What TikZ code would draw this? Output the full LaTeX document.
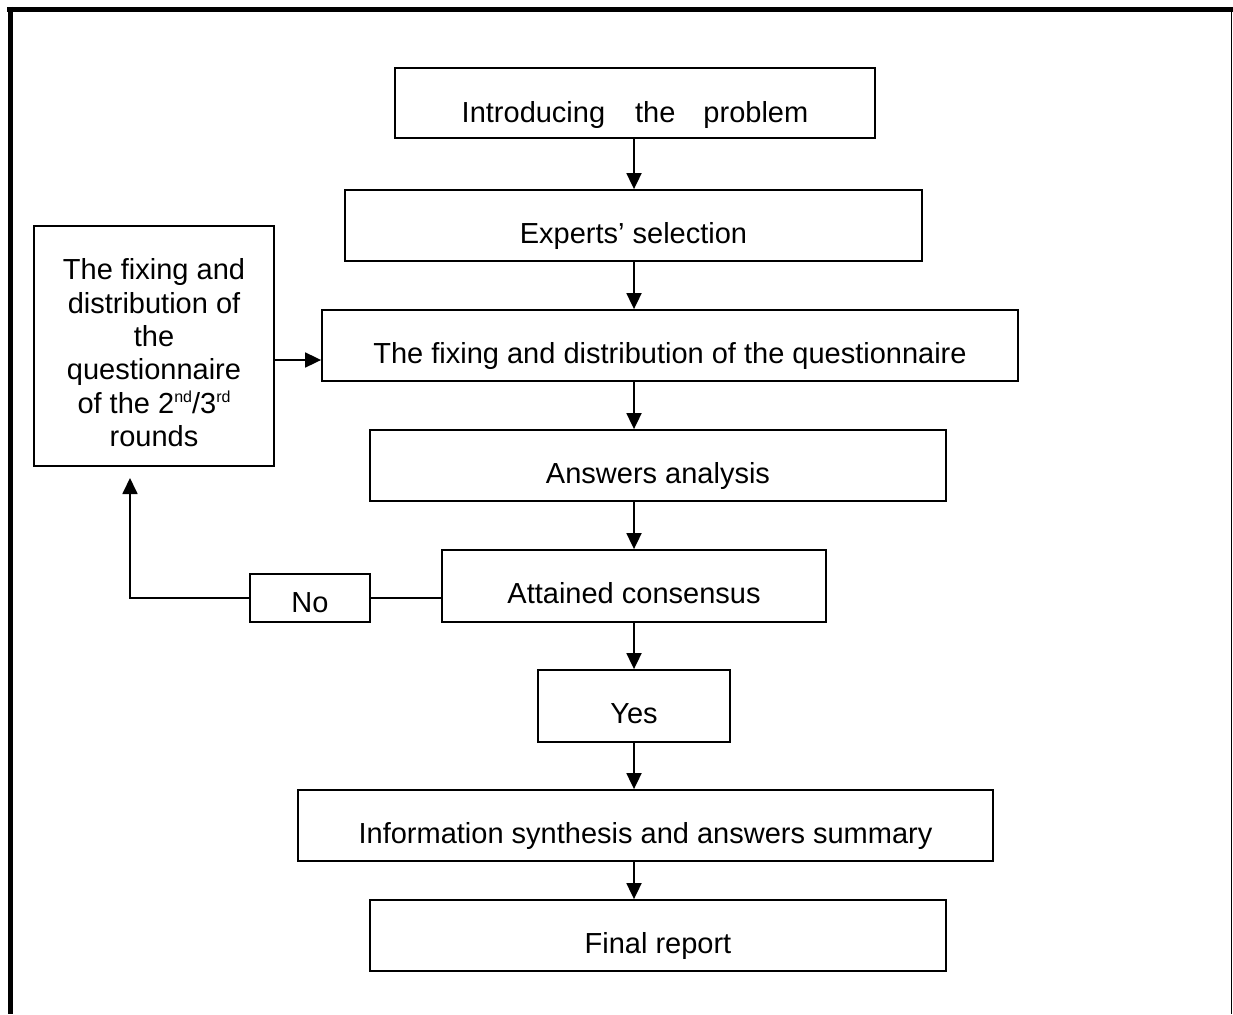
\documentclass[tikz,border=0pt]{standalone}
\usepackage{fontspec}
\setmainfont{Liberation Sans}
\usetikzlibrary{arrows.meta}
\newcommand{\mysup}[1]{\raisebox{11pt}{\fontsize{16}{16}\selectfont #1}}
\begin{document}
\begin{tikzpicture}[x=1pt,y=-1pt,
  box/.style={draw, line width=1.8pt, inner sep=0pt, text height=35pt, text depth=0pt,
              font=\fontsize{29}{33.4}\selectfont},
  txt/.style={inner sep=0pt, align=center, font=\fontsize{29}{33.4}\selectfont},
  arr/.style={line width=1.8pt, -{Triangle[length=16pt,width=15pt]}},
  conn/.style={line width=1.8pt}]
\useasboundingbox (0,0) rectangle (1233,1014);
% outer frame
\draw[line width=5pt] (7,9.5) -- (1233,9.5);
\draw[line width=5pt] (10,7) -- (10,1014);
\draw[line width=1.5pt] (1231.5,12) -- (1231.5,1014);
% main boxes
\node[box, minimum width=480pt, minimum height=70pt, text height=38pt] (b1) at (635,103)
  {Introducing\hspace{30pt}the\hspace{28pt}problem};
\node[box, minimum width=577pt, minimum height=71pt] (b2) at (633.5,225.5) {Experts’ selection};
\node[box, minimum width=696pt, minimum height=71pt] (b3) at (670,345.5)
  {The fixing and distribution of the questionnaire};
\node[box, minimum width=576pt, minimum height=71pt] (b4) at (658,465.5) {Answers analysis};
\node[box, minimum width=384pt, minimum height=72pt] (b5) at (634,586) {Attained consensus};
\node[box, minimum width=192pt, minimum height=72pt, text height=34pt] (b6) at (634,706) {Yes};
\node[box, minimum width=695pt, minimum height=71pt] (b7) at (645.5,825.5)
  {Information synthesis and answers summary};
\node[box, minimum width=576pt, minimum height=71pt] (b8) at (658,935.5) {Final report};
\node[box, minimum width=120pt, minimum height=48pt, text height=28pt] (no) at (310,598) {No};
% left feedback box
\node[draw, line width=1.8pt, minimum width=240pt, minimum height=240pt] (lb) at (154,346) {};
\node[txt] (lbt) at (154,352.8)
  {The fixing and\\distribution of\\the\\questionnaire\\of the 2\mysup{nd}/3\mysup{rd}\\rounds};
% helper coordinates
\coordinate (ax) at (634,0);
\coordinate (ay) at (0,360);
\coordinate (lp) at (130,478);
% vertical flow
\draw[arr] (b1.south -| ax) -- (b2.north -| ax);
\draw[arr] (b2.south -| ax) -- (b3.north -| ax);
\draw[arr] (b3.south -| ax) -- (b4.north -| ax);
\draw[arr] (b4.south -| ax) -- (b5.north -| ax);
\draw[arr] (b5.south -| ax) -- (b6.north -| ax);
\draw[arr] (b6.south -| ax) -- (b7.north -| ax);
\draw[arr] (b7.south -| ax) -- (b8.north -| ax);
% feedback loop
\draw[arr] (lb.east |- ay) -- (b3.west |- ay);
\draw[conn] (b5.west |- no.east) -- (no.east);
\draw[arr] (no.west) -| (lp);
\end{tikzpicture}
\end{document}
